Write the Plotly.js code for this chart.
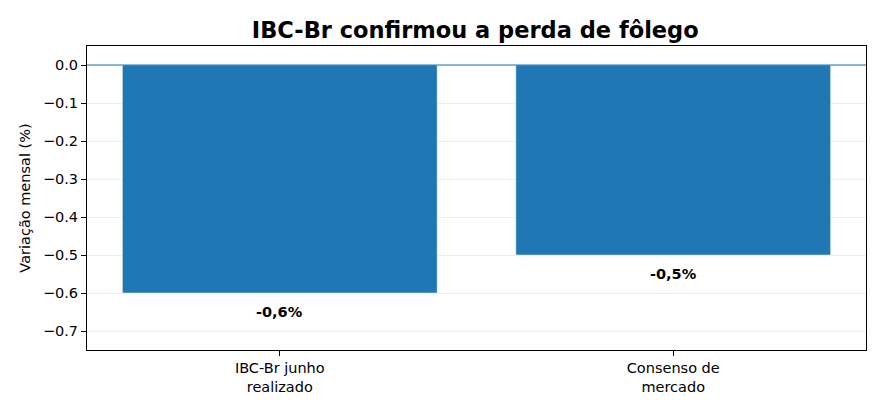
<!DOCTYPE html>
<html><head><meta charset="utf-8">
<script src="https://cdn.plot.ly/plotly-3.0.1.min.js"></script>
<style>html,body{margin:0;padding:0;background:#fff;}</style>
</head><body>
<div id="chart" style="width:885px;height:411px;"></div>
<script>
const categories = ["IBC-Br junho<br>realizado", "Consenso de<br>mercado"];
const values = [-0.6, -0.5];
const valueLabels = ["-0,6%", "-0,5%"];
const yTicks = [0.0, -0.1, -0.2, -0.3, -0.4, -0.5, -0.6, -0.7];

const font = "DejaVu Sans, sans-serif";
const trace = {
  type: "bar",
  x: [0, 1],
  y: values,
  width: 0.8,
  marker: {color: "#1f77b4", line: {color: "rgba(255,255,255,0.45)", width: 1}},
  hoverinfo: "skip"
};
const annotations = values.map((v, i) => ({
  x: i, y: v - 0.05, xref: "x", yref: "y",
  text: "<b>" + valueLabels[i] + "</b>", showarrow: false,
  font: {family: font, size: 14.5, color: "#000"}, yanchor: "middle"
}));
const layout = {
  width: 885, height: 411,
  margin: {l: 87, r: 19, t: 46, b: 61},
  paper_bgcolor: "#fff", plot_bgcolor: "#fff",
  showlegend: false,
  title: {text: "<b>IBC-Br confirmou a perda de fôlego</b>", x: 0.537, xanchor: "center", y: 0.927, yanchor: "middle",
          font: {family: font, size: 22.5, color: "#000"}},
  xaxis: {
    range: [-0.49, 1.49], tickvals: [0, 1], ticktext: categories,
    showgrid: false, zeroline: false,
    showline: true, linecolor: "#000", linewidth: 1, mirror: true,
    ticks: "outside", ticklen: 5, tickcolor: "#000",
    tickfont: {family: font, size: 14.5, color: "#000"}
  },
  yaxis: {
    range: [-0.75, 0.05], tickvals: yTicks, tickformat: ".1f",
    showgrid: true, gridcolor: "rgba(0,0,0,0.07)", gridwidth: 1,
    zeroline: false,
    layer: "above traces",
    showline: true, linecolor: "#000", linewidth: 1, mirror: true,
    ticks: "outside", ticklen: 5, tickcolor: "#000",
    tickfont: {family: font, size: 14.5, color: "#000"},
    title: {text: "Variação mensal (%)", font: {family: font, size: 14.5, color: "#000"}, standoff: 8}
  },
  shapes: [{type: "line", xref: "paper", x0: 0, x1: 1, yref: "y", y0: 0, y1: 0,
            line: {color: "#1f77b4", width: 1}, layer: "above"}],
  annotations: annotations
};
Plotly.newPlot("chart", [trace], layout, {displayModeBar: false, staticPlot: true});
</script>
</body></html>
